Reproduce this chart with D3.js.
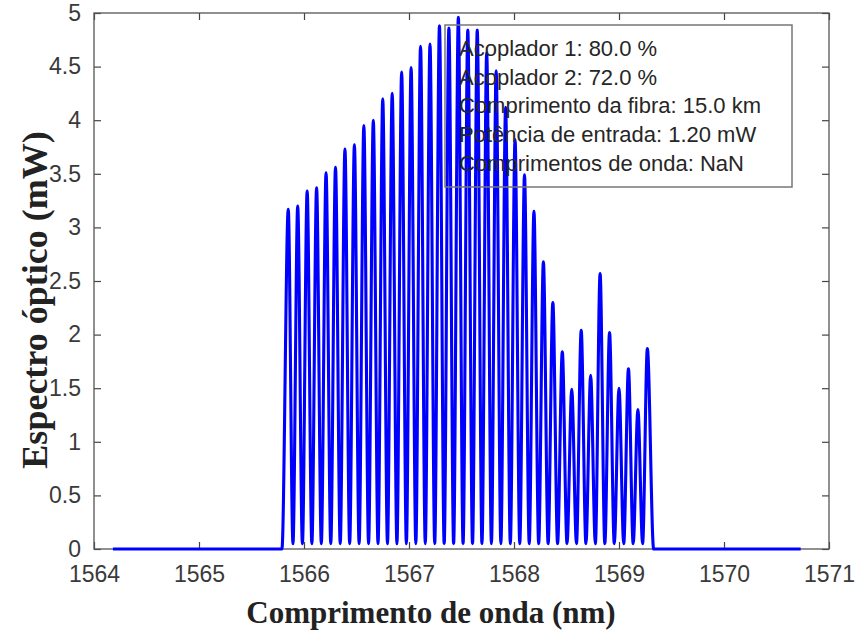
<!DOCTYPE html>
<html>
<head>
<meta charset="utf-8">
<script src="https://cdn.jsdelivr.net/npm/d3@7"></script>
<style>
  body { margin: 0; background: #fff; }
  svg { display: block; }
  .tick text { font-family: "Liberation Sans", Arial, Helvetica, sans-serif; font-size: 23px; fill: #3a3a3a; }
  .tick line { stroke: #444; stroke-width: 1.2; }
  .titulo { font-family: "Liberation Serif", "Times New Roman", serif; font-weight: bold; fill: #222; }
  .legenda text { font-family: "Liberation Sans", Arial, Helvetica, sans-serif; font-size: 22px; fill: #262626; }
</style>
</head>
<body>
<div id="grafico"></div>
<script>
// espectro optico: picos do pente (nm, mW)
var picosNm = [1565.85, 1565.94, 1566.03, 1566.12, 1566.21, 1566.30, 1566.39, 1566.48,
               1566.57, 1566.66, 1566.75, 1566.84, 1566.93, 1567.02, 1567.11, 1567.20,
               1567.29, 1567.38, 1567.47, 1567.56, 1567.65, 1567.74, 1567.83, 1567.92,
               1568.01, 1568.10, 1568.19, 1568.28, 1568.37, 1568.46, 1568.55, 1568.64,
               1568.73, 1568.82, 1568.91, 1569.00, 1569.09, 1569.18, 1569.27];
var picosMw = [3.17, 3.20, 3.34, 3.37, 3.51, 3.56, 3.73, 3.77,
               3.95, 4.00, 4.20, 4.25, 4.45, 4.49, 4.69, 4.71,
               4.88, 4.86, 4.96, 4.84, 4.84, 4.63, 4.46, 4.12,
               3.82, 3.49, 3.15, 2.68, 2.30, 1.84, 1.49, 2.04,
               1.62, 2.57, 2.02, 1.50, 1.68, 1.30, 1.87];

// vales entre os picos (nm, mW)
var valesNm = [1565.895, 1565.985, 1566.075, 1566.165, 1566.255, 1566.345, 1566.435, 1566.525,
               1566.615, 1566.705, 1566.795, 1566.885, 1566.975, 1567.065, 1567.155, 1567.245,
               1567.335, 1567.425, 1567.515, 1567.605, 1567.695, 1567.785, 1567.875, 1567.965,
               1568.055, 1568.145, 1568.235, 1568.325, 1568.415, 1568.505, 1568.595, 1568.685,
               1568.775, 1568.865, 1568.955, 1569.045, 1569.135, 1569.225];
var valesMw = [0.05, 0.05, 0.05, 0.05, 0.05, 0.05, 0.05, 0.05,
               0.05, 0.05, 0.05, 0.05, 0.05, 0.05, 0.05, 0.05,
               0.05, 0.05, 0.05, 0.05, 0.05, 0.05, 0.05, 0.05,
               0.05, 0.05, 0.05, 0.05, 0.05, 0.05, 0.05, 0.05,
               0.05, 0.05, 0.05, 0.05, 0.05, 0.05];

// linha de base fora da banda
var baseEsqNm = [1564.18, 1565.79];
var baseDirNm = [1569.33, 1570.73];

var ticksX = [1564, 1565, 1566, 1567, 1568, 1569, 1570, 1571];
var ticksY = [0, 0.5, 1, 1.5, 2, 2.5, 3, 3.5, 4, 4.5, 5];

var legenda = ["Acoplador 1: 80.0 %",
               "Acoplador 2: 72.0 %",
               "Comprimento da fibra: 15.0 km",
               "Potência de entrada: 1.20 mW",
               "Comprimentos de onda: NaN"];

var width = 856, height = 631;
var esq = 94, dir = 829, topo = 13, base = 549;

var svg = d3.select("#grafico").append("svg")
    .attr("width", width).attr("height", height);

var xScale = d3.scaleLinear().domain([1564, 1571]).range([esq, dir]);
var yScale = d3.scaleLinear().domain([0, 5]).range([base, topo]);

// monta a serie: base esquerda, picos/vales alternados, base direita
var serie = baseEsqNm.map(function(d) { return [d, 0]; });
for (var i = 0; i < picosNm.length; i++) {
    serie.push([picosNm[i], picosMw[i]]);
    if (i < valesNm.length) serie.push([valesNm[i], valesMw[i]]);
}
baseDirNm.forEach(function(d) { serie.push([d, 0]); });

// eixos (ticks para dentro, estilo matlab)
var fmt = d3.format("~g");
svg.append("g").attr("transform", "translate(0," + base + ")")
    .call(d3.axisBottom(xScale).tickValues(ticksX).tickFormat(d3.format("d")).tickSize(-7).tickPadding(17))
    .call(function(g) { g.select(".domain").remove(); });
svg.append("g").attr("transform", "translate(0," + topo + ")")
    .call(d3.axisTop(xScale).tickValues(ticksX).tickFormat("").tickSize(-7))
    .call(function(g) { g.select(".domain").remove(); });
svg.append("g").attr("transform", "translate(" + esq + ",0)")
    .call(d3.axisLeft(yScale).tickValues(ticksY).tickFormat(fmt).tickSize(-7).tickPadding(13))
    .call(function(g) { g.select(".domain").remove(); });
svg.append("g").attr("transform", "translate(" + dir + ",0)")
    .call(d3.axisRight(yScale).tickValues(ticksY).tickFormat("").tickSize(-7))
    .call(function(g) { g.select(".domain").remove(); });

svg.append("rect")
    .attr("x", esq).attr("y", topo)
    .attr("width", dir - esq).attr("height", base - topo)
    .attr("fill", "none").attr("stroke", "#555").attr("stroke-width", 1.3);

// curva do espectro
var linha = d3.line()
    .x(function(d) { return xScale(d[0]); })
    .y(function(d) { return yScale(d[1]); })
    .curve(d3.curveMonotoneX);

svg.append("path")
    .datum(serie)
    .attr("d", linha)
    .attr("fill", "none")
    .attr("stroke", "#0000ff")
    .attr("stroke-width", 3.1)
    .attr("stroke-linejoin", "round");

// caixa de anotacao
var leg = svg.append("g").attr("class", "legenda");
leg.append("rect")
    .attr("x", 445).attr("y", 25).attr("width", 347).attr("height", 162)
    .attr("fill", "none").attr("stroke", "#777").attr("stroke-width", 1.5);
leg.selectAll("text").data(legenda).enter().append("text")
    .attr("x", 459)
    .attr("y", function(d, i) { return 56 + i * 28.7; })
    .text(function(d) { return d; });

// titulos
svg.append("text").attr("class", "titulo")
    .attr("x", 431).attr("y", 623)
    .attr("text-anchor", "middle")
    .style("font-size", "31px")
    .text("Comprimento de onda (nm)");
svg.append("text").attr("class", "titulo")
    .attr("transform", "translate(47,300) rotate(-90)")
    .attr("text-anchor", "middle")
    .style("font-size", "36px")
    .text("Espectro óptico (mW)");
</script>
</body>
</html>
